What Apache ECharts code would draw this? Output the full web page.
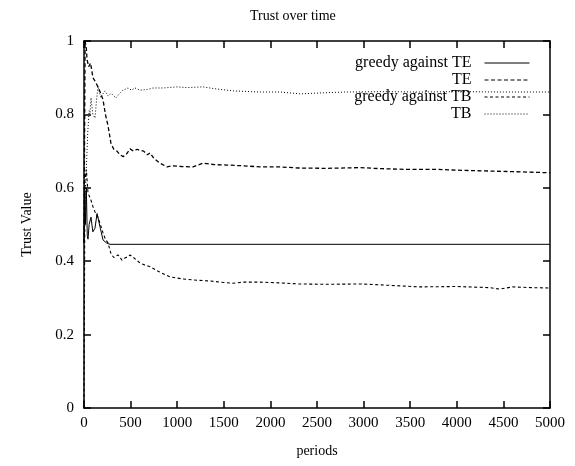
<!DOCTYPE html>
<html>
<head>
<meta charset="utf-8">
<script src="https://cdn.jsdelivr.net/npm/echarts@6/dist/echarts.min.js"></script>
<style>
  html, body { margin: 0; padding: 0; background: #fff; }
  #chart { width: 575px; height: 466px; }
</style>
</head>
<body>
<div id="chart"></div>
<script>
// series names, in legend order
const seriesNames = ['greedy against TE', 'TE', 'greedy against TB', 'TB']

// [period, trust] pairs
const greedyTE = [[0,0.45],[8,0.59],[15,0.5],[25,0.6],[35,0.47],[43,0.46],[55,0.5],[75,0.52],[95,0.48],[118,0.49],[140,0.53],[150,0.53],[175,0.49],[204,0.458],[240,0.45],[279,0.446],[5000,0.446]]

const te = [[0,0.45],[12,1.0],[25,0.98],[32,0.95],[50,0.93],[70,0.94],[96,0.9],[120,0.89],[150,0.875],[175,0.86],[204,0.84],[230,0.8],[257,0.77],[290,0.72],[320,0.705],[354,0.7],[386,0.69],[420,0.685],[450,0.69],[494,0.706],[530,0.7],[570,0.705],[600,0.702],[640,0.7],[680,0.69],[708,0.695],[750,0.68],[815,0.667],[890,0.657],[950,0.66],[1050,0.658],[1170,0.657],[1277,0.667],[1400,0.663],[1534,0.662],[1700,0.66],[1888,0.657],[2100,0.657],[2300,0.654],[2600,0.653],[2960,0.655],[3200,0.652],[3500,0.65],[3800,0.65],[4000,0.648],[4300,0.646],[4600,0.644],[5000,0.641]]

const greedyTB = [[0,0],[10,0.62],[25,0.65],[43,0.585],[70,0.57],[97,0.548],[125,0.53],[150,0.52],[175,0.5],[204,0.477],[230,0.46],[257,0.45],[290,0.42],[320,0.41],[365,0.417],[408,0.403],[440,0.409],[470,0.412],[494,0.417],[530,0.41],[601,0.395],[650,0.39],[708,0.385],[800,0.372],[923,0.357],[1050,0.352],[1170,0.349],[1352,0.346],[1500,0.342],[1600,0.34],[1706,0.343],[1888,0.343],[2100,0.341],[2300,0.338],[2600,0.337],[2960,0.338],[3300,0.334],[3600,0.33],[4000,0.331],[4350,0.328],[4460,0.324],[4600,0.33],[4800,0.328],[5000,0.327]]

const tb = [[0,0.45],[20,0.62],[40,0.75],[55,0.81],[64,0.8],[75,0.845],[95,0.8],[118,0.79],[135,0.84],[150,0.877],[165,0.86],[182,0.845],[200,0.855],[225,0.864],[260,0.85],[290,0.858],[320,0.85],[343,0.845],[380,0.856],[418,0.866],[472,0.872],[510,0.866],[547,0.872],[600,0.866],[680,0.868],[740,0.872],[850,0.872],[998,0.875],[1100,0.873],[1277,0.875],[1400,0.87],[1600,0.864],[1888,0.861],[2100,0.861],[2318,0.856],[2500,0.858],[2800,0.861],[3200,0.862],[3600,0.861],[4000,0.862],[4500,0.861],[5000,0.861]]

const seriesData = [greedyTE, te, greedyTB, tb]
const dashes = ['solid', [4, 2.5], [3, 2.5], [1, 2]]
const widths = [1, 1.3, 1.1, 1]

const font = 'Liberation Serif'
const chart = echarts.init(document.getElementById('chart'))

const axisBase = {
  type: 'value',
  axisLine: { show: true, onZero: false, lineStyle: { color: '#000', width: 1.5 } },
  axisTick: { show: true, inside: true, length: 7, lineStyle: { color: '#000', width: 1.5 } },
  splitLine: { show: false }
}

// one legend per row so each row ends at the same right edge
const legendTops = [55, 72, 89, 106]
const legends = seriesNames.map((name, i) => ({
  data: [name],
  right: 45,
  top: legendTops[i],
  align: 'right',
  padding: 0,
  itemWidth: 45,
  itemHeight: 14,
  itemStyle: { opacity: 0 },
  lineStyle: { width: 1 },
  textStyle: { fontFamily: font, fontSize: 16, color: '#000', padding: [0, 8, 0, 0] },
  selectedMode: false
}))

chart.setOption({
  animation: false,
  title: {
    text: 'Trust over time',
    left: 245, top: 4,
    textStyle: { fontFamily: font, fontSize: 14, fontWeight: 'normal', color: '#000' }
  },
  legend: legends,
  grid: { left: 84, right: 25, top: 41, bottom: 58 },
  xAxis: [
    Object.assign({}, axisBase, {
      min: 0, max: 5000, interval: 500, position: 'bottom',
      name: 'periods', nameLocation: 'middle', nameGap: 36,
      nameTextStyle: { fontFamily: font, fontSize: 14, color: '#000' },
      axisLabel: { fontFamily: font, fontSize: 15, color: '#000', margin: 8, formatter: v => String(v) }
    }),
    Object.assign({}, axisBase, {
      min: 0, max: 5000, interval: 500, position: 'top',
      axisLabel: { show: false }
    })
  ],
  yAxis: [
    Object.assign({}, axisBase, {
      min: 0, max: 1, interval: 0.2, position: 'left',
      name: 'Trust Value', nameLocation: 'middle', nameGap: 50,
      nameTextStyle: { fontFamily: font, fontSize: 14, color: '#000' },
      axisLabel: { fontFamily: font, fontSize: 15, color: '#000', margin: 10 }
    }),
    Object.assign({}, axisBase, {
      min: 0, max: 1, interval: 0.2, position: 'right',
      axisLabel: { show: false }
    })
  ],
  series: seriesNames.map((name, i) => ({
    name: name,
    type: 'line',
    xAxisIndex: 0,
    yAxisIndex: 0,
    data: seriesData[i],
    symbol: 'none',
    itemStyle: { color: '#000' },
    lineStyle: { color: '#000', width: widths[i], type: dashes[i] }
  }))
})
</script>
</body>
</html>
